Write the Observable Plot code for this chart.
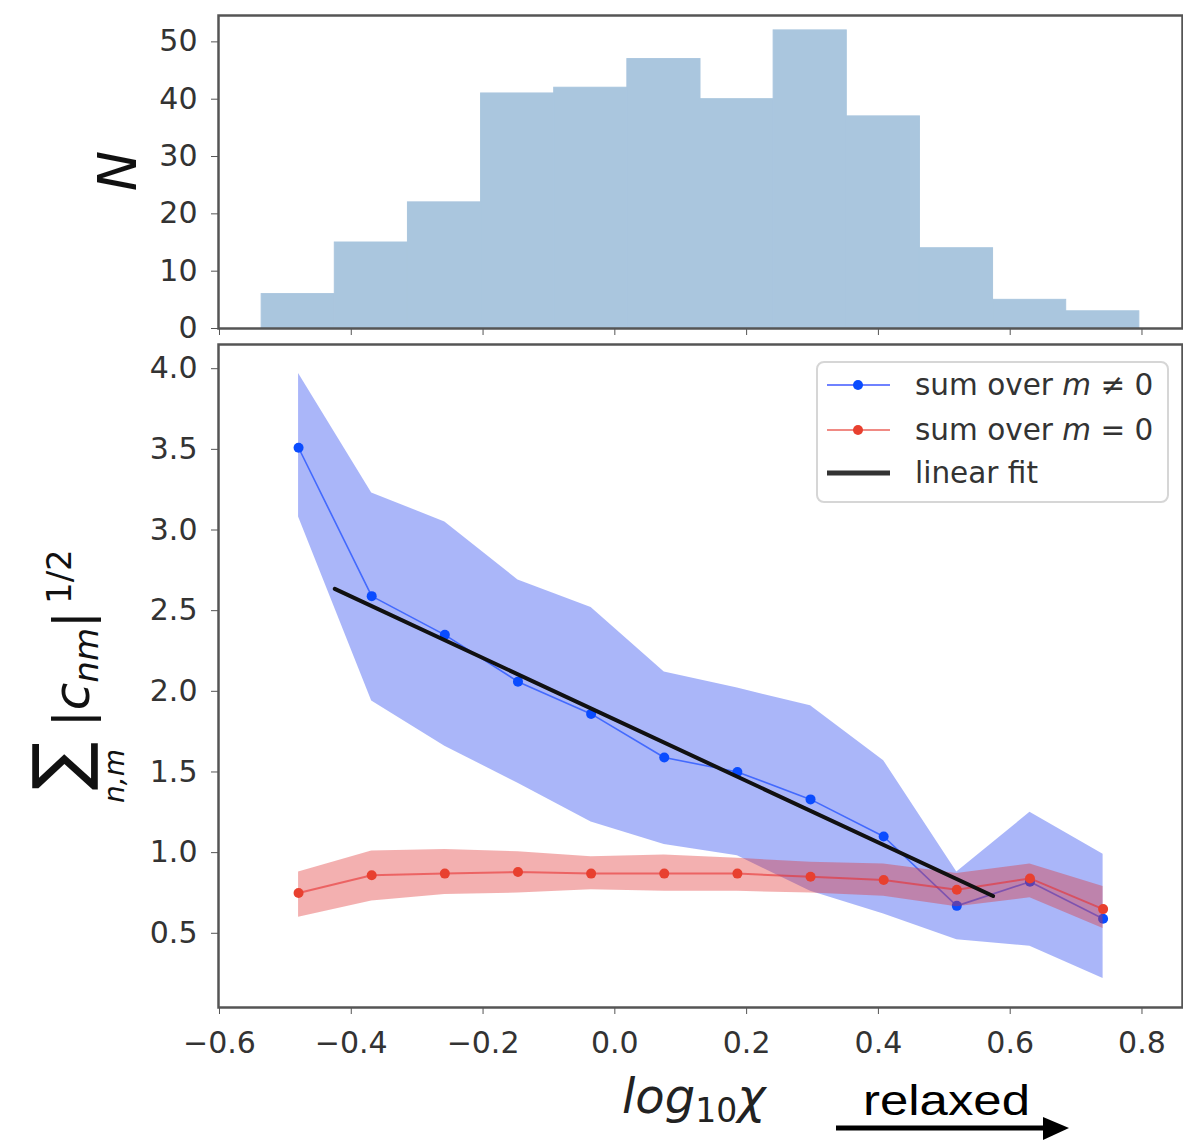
<!DOCTYPE html>
<html><head><meta charset="utf-8">
<script src="https://cdn.jsdelivr.net/npm/d3@7"></script>
<script src="https://cdn.jsdelivr.net/npm/@observablehq/plot@0.6"></script>
<style>
body{margin:0;background:#fff;}
#wrap{position:relative;width:1183px;height:1141px;overflow:hidden;background:#fff;}
#wrap > svg{position:absolute;left:0;}
</style></head><body><div id="wrap"></div>
<script>
// ---- data ----
const binEdges = [-0.536, -0.425, -0.314, -0.203, -0.092, 0.019, 0.130, 0.241, 0.352, 0.463, 0.574, 0.685, 0.796];
const counts   = [6, 15, 22, 41, 42, 47, 40, 52, 37, 14, 5, 3];
const xs       = [-0.480, -0.369, -0.258, -0.147, -0.036, 0.075, 0.186, 0.297, 0.408, 0.519, 0.630, 0.741];
const blueMean = [3.51, 2.59, 2.35, 2.06, 1.86, 1.59, 1.50, 1.33, 1.10, 0.67, 0.82, 0.59];
const blueLo   = [3.08, 1.94, 1.66, 1.43, 1.19, 1.05, 0.98, 0.76, 0.62, 0.46, 0.42, 0.22];
const blueHi   = [3.97, 3.23, 3.05, 2.69, 2.52, 2.12, 2.02, 1.91, 1.57, 0.88, 1.25, 0.99];
const redMean  = [0.75, 0.86, 0.87, 0.88, 0.87, 0.87, 0.87, 0.85, 0.83, 0.77, 0.84, 0.65];
const redLo    = [0.60, 0.70, 0.74, 0.75, 0.77, 0.76, 0.76, 0.75, 0.73, 0.665, 0.72, 0.53];
const redHi    = [0.88, 1.01, 1.02, 1.005, 0.975, 0.985, 0.965, 0.94, 0.93, 0.87, 0.93, 0.79];
const fitX     = [-0.425, 0.574];
const fitY     = [2.635, 0.731];
const xTicks    = [-0.6, -0.4, -0.2, 0.0, 0.2, 0.4, 0.6, 0.8];
const histTicks = [0, 10, 20, 30, 40, 50];
const yTicks    = [0.5, 1.0, 1.5, 2.0, 2.5, 3.0, 3.5, 4.0];
const legendItems = [
  {pre: "sum over ", m: "m", post: " \u2260 0", color: "#0a4cff", line: "#6f82ff", kind: "dotline"},
  {pre: "sum over ", m: "m", post: " = 0", color: "#e8402f", line: "#f08a84", kind: "dotline"},
  {pre: "linear fit", m: "", post: "", color: "#333", line: "#333", kind: "line"}
];

const wrap = document.getElementById("wrap");
const xDomain = [-0.6015, 0.8615];
const fmt1 = d3.format(".1f");
const baseStyle = {fontFamily: "DejaVu Sans", fontSize: "30px", color: "#333", background: "transparent", overflow: "visible"};

// ---- top histogram ----
const bins = counts.map((n, i) => ({x1: binEdges[i], x2: binEdges[i + 1], n}));
const topPlot = Plot.plot({
  width: 1183, height: 338, marginTop: 15, marginBottom: 10, marginLeft: 218, marginRight: 1,
  style: baseStyle,
  x: {domain: xDomain},
  y: {domain: [0, 54.6]},
  marks: [
    Plot.rectY(bins, {x1: "x1", x2: "x2", y: "n", fill: "#aac6de", stroke: "#aac6de", strokeWidth: 1}),
    Plot.axisX({ticks: xTicks, tickSize: 7, tickFormat: () => "", label: null, stroke: "#555"}),
    Plot.axisY({ticks: histTicks, tickSize: 7, tickPadding: 14, label: null, stroke: "#555", fill: "#333"}),
    Plot.frame({stroke: "#555", strokeWidth: 2.5})
  ]
});
topPlot.style.top = "0px";
wrap.appendChild(topPlot);

// ---- bottom panel ----
const rows = xs.map((x, i) => ({x, bm: blueMean[i], bl: blueLo[i], bh: blueHi[i], rm: redMean[i], rl: redLo[i], rh: redHi[i]}));
const fit = fitX.map((x, i) => ({x, y: fitY[i]}));
const botPlot = Plot.plot({
  width: 1183, height: 803, marginTop: 6, marginBottom: 134, marginLeft: 218, marginRight: 1,
  style: baseStyle,
  x: {domain: xDomain},
  y: {domain: [0.04, 4.15]},
  marks: [
    Plot.areaY(rows, {x: "x", y1: "bl", y2: "bh", fill: "#2040f0", fillOpacity: 0.38}),
    Plot.line(rows, {x: "x", y: "bm", stroke: "#2050ff", strokeWidth: 1.6, strokeOpacity: 0.75}),
    Plot.dot(rows, {x: "x", y: "bm", r: 5, fill: "#0a4cff", stroke: "none"}),
    Plot.areaY(rows, {x: "x", y1: "rl", y2: "rh", fill: "#e03030", fillOpacity: 0.38}),
    Plot.line(rows, {x: "x", y: "rm", stroke: "#e83030", strokeWidth: 2, strokeOpacity: 0.6}),
    Plot.dot(rows, {x: "x", y: "rm", r: 5, fill: "#e8402f", stroke: "none"}),
    Plot.line(fit, {x: "x", y: "y", stroke: "#111", strokeWidth: 4}),
    Plot.axisX({ticks: xTicks, tickSize: 7, tickPadding: 17, tickFormat: fmt1, label: null, stroke: "#555", fill: "#333"}),
    Plot.axisY({ticks: yTicks, tickSize: 7, tickPadding: 14, tickFormat: fmt1, label: null, stroke: "#555", fill: "#333"}),
    Plot.frame({stroke: "#555", strokeWidth: 2.5})
  ]
});
botPlot.style.top = "338px";
wrap.appendChild(botPlot);

// ---- overlay: labels, legend, annotation ----
const ov = d3.select(wrap).append("svg")
  .attr("width", 1183).attr("height", 1141)
  .style("top", "0px").style("pointer-events", "none")
  .attr("font-family", "DejaVu Sans");

// N label
ov.append("text").attr("transform", "translate(136,171) rotate(-90)")
  .attr("text-anchor", "middle").attr("font-size", 54).attr("font-style", "italic")
  .attr("fill", "#111").text("N");

// y label of the bottom panel
const gy = ov.append("g").attr("transform", "rotate(-90)").attr("fill", "#111");
gy.append("text").attr("x", -766).attr("y", 84).attr("text-anchor", "middle").attr("font-size", 72).text("\u2211");
gy.append("text").attr("x", -776).attr("y", 124).attr("text-anchor", "middle").attr("font-size", 28).attr("font-style", "italic").text("n,m");
const tmain = gy.append("text").attr("x", -727).attr("y", 89).attr("font-size", 50);
tmain.append("tspan").text("|");
tmain.append("tspan").attr("font-style", "italic").text("c");
tmain.append("tspan").attr("font-style", "italic").attr("font-size", 34).attr("dy", 9).text("nm");
tmain.append("tspan").attr("dy", -9).text("|");
gy.append("text").attr("x", -604).attr("y", 71).attr("font-size", 34).text("1/2");

// x label
const xl = ov.append("text").attr("x", 622).attr("y", 1113).attr("font-size", 48).attr("fill", "#222");
xl.append("tspan").attr("font-style", "italic").text("log");
xl.append("tspan").attr("font-size", 33).attr("dy", 9).text("10");
xl.append("tspan").attr("font-style", "italic").attr("dy", -9).text("\u03c7");

// "relaxed" annotation
ov.append("text").attr("x", 863).attr("y", 1115).attr("font-family", "Liberation Sans")
  .attr("font-size", 42).attr("fill", "#000").attr("textLength", 167).attr("lengthAdjust", "spacingAndGlyphs").text("relaxed");
ov.append("line").attr("x1", 836).attr("x2", 1046).attr("y1", 1128).attr("y2", 1128).attr("stroke", "#000").attr("stroke-width", 5);
ov.append("path").attr("d", "M1043,1117 L1069,1128 L1043,1140 Z").attr("fill", "#000");

// legend
const lg = ov.append("g");
lg.append("rect").attr("x", 817).attr("y", 362).attr("width", 351).attr("height", 140).attr("rx", 7)
  .attr("fill", "#fff").attr("fill-opacity", 0.85).attr("stroke", "#d6d6d6").attr("stroke-width", 2);
const rowY = [385, 430, 473];
legendItems.forEach((it, i) => {
  const y = rowY[i];
  lg.append("line").attr("x1", 827).attr("x2", 890).attr("y1", y).attr("y2", y)
    .attr("stroke", it.line).attr("stroke-width", it.kind === "line" ? 5 : 2);
  if (it.kind === "dotline") lg.append("circle").attr("cx", 858).attr("cy", y).attr("r", 5).attr("fill", it.color);
  const t = lg.append("text").attr("x", 915).attr("y", y + 10).attr("font-size", 29.5).attr("fill", "#333");
  t.append("tspan").text(it.pre);
  if (it.m) {
    t.append("tspan").attr("font-style", "italic").text(it.m);
    t.append("tspan").text(it.post);
  }
});
</script></body></html>
